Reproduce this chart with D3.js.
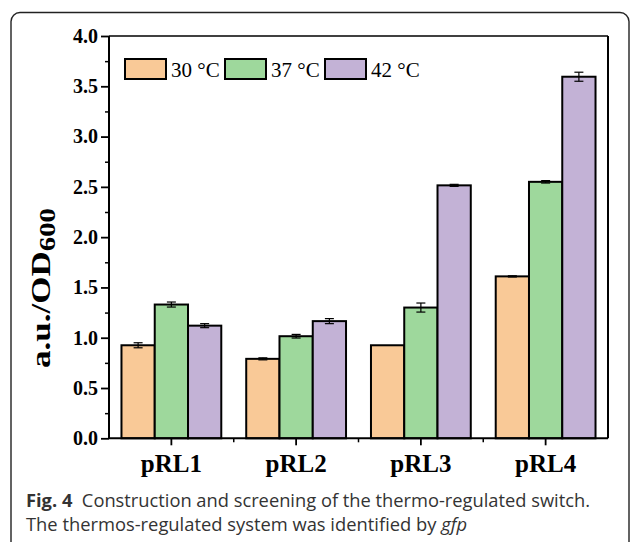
<!DOCTYPE html>
<html><head><meta charset="utf-8">
<script src="https://cdn.jsdelivr.net/npm/d3@7"></script>
<style>body{margin:0;background:#fff}svg{display:block}</style>
</head><body>
<svg id="c" width="630" height="542"></svg>
<script>
const categories = ["pRL1", "pRL2", "pRL3", "pRL4"];
const seriesNames = ["30 °C", "37 °C", "42 °C"];
const colors = ["#F9C997", "#9ED89C", "#C3B2D6"];
const values30 = [0.925, 0.79, 0.925, 1.61];
const values37 = [1.33, 1.015, 1.30, 2.55];
const values42 = [1.12, 1.165, 2.515, 3.595];
const err30 = [0.025, 0.01, 0.0, 0.006];
const err37 = [0.025, 0.018, 0.045, 0.012];
const err42 = [0.02, 0.025, 0.01, 0.045];
const yTicks = [0, 0.5, 1.0, 1.5, 2.0, 2.5, 3.0, 3.5, 4.0];
const captionBold = "Fig. 4";
const captionLine1 = "Construction and screening of the thermo-regulated switch.";
const captionLine2a = "The thermos-regulated system was identified by ";
const captionLine2b = "gfp";

const svg = d3.select("#c");
const L = 109, R = 608, T = 36, B = 438.3;
const serif = "'Liberation Serif','Times New Roman',serif";

// border
svg.append("rect").attr("x", 11).attr("y", 12.5).attr("width", 618).attr("height", 620)
  .attr("rx", 9).attr("fill", "none").attr("stroke", "#222").attr("stroke-width", 1.4);

const y = d3.scaleLinear().domain([0, 4]).range([B, T]);
const x = d3.scaleBand().domain(categories).range([L, R]).paddingInner(0.2).paddingOuter(0.1);
const xs = d3.scaleBand().domain(seriesNames).range([0, x.bandwidth()]);
const step = x.step();

const series = [values30, values37, values42];
const errs = [err30, err37, err42];

// bars
const g = svg.append("g");
categories.forEach((c, i) => {
  series.forEach((vals, s) => {
    const bx = x(c) + xs(seriesNames[s]);
    g.append("rect").attr("x", bx).attr("y", y(vals[i]))
      .attr("width", xs.bandwidth()).attr("height", y(0) - y(vals[i]))
      .attr("fill", colors[s]).attr("stroke", "#000").attr("stroke-width", 2);
  });
});
// error bars
categories.forEach((c, i) => {
  series.forEach((vals, s) => {
    const e = errs[s][i];
    if (e <= 0) return;
    const cx = x(c) + xs(seriesNames[s]) + xs.bandwidth() / 2;
    const y1 = y(vals[i] + e), y2 = y(vals[i] - e);
    g.append("line").attr("x1", cx).attr("x2", cx).attr("y1", y1).attr("y2", y2).attr("stroke", "#000").attr("stroke-width", 1.2);
    [y1, y2].forEach(yy => g.append("line").attr("x1", cx - 4.5).attr("x2", cx + 4.5).attr("y1", yy).attr("y2", yy).attr("stroke", "#000").attr("stroke-width", 1.2));
  });
});

// frame
svg.append("line").attr("x1", L).attr("x2", R).attr("y1", T).attr("y2", T).attr("stroke", "#000").attr("stroke-width", 1.3);
svg.append("line").attr("x1", R).attr("x2", R).attr("y1", T).attr("y2", B).attr("stroke", "#000").attr("stroke-width", 2);

// y axis
const yAxis = d3.axisLeft(y).tickValues(yTicks).tickFormat(d3.format(".1f")).tickSize(8).tickPadding(3);
const ya = svg.append("g").attr("transform", `translate(${L},0)`).call(yAxis);
ya.select(".domain").attr("stroke-width", 2).attr("d", `M0,${T}V${B}`);
ya.selectAll(".tick line").attr("stroke-width", 1.8);
ya.selectAll(".tick text").attr("font-family", serif).attr("font-weight", "bold").attr("font-size", 20).attr("fill", "#000");
const yMinor = d3.range(0.25, 4, 0.5);
const yAxisMinor = d3.axisLeft(y).tickValues(yMinor).tickFormat("").tickSize(4);
const ym = svg.append("g").attr("transform", `translate(${L},0)`).call(yAxisMinor);
ym.select(".domain").remove();
ym.selectAll(".tick line").attr("stroke-width", 1.5);

// x axis
const xAxis = d3.axisBottom(x).tickSize(7).tickPadding(9);
const xa = svg.append("g").attr("transform", `translate(0,${B})`).call(xAxis);
xa.select(".domain").attr("stroke-width", 2).attr("d", `M${L},0H${R}`);
xa.selectAll(".tick line").attr("stroke-width", 1.8);
xa.selectAll(".tick text").attr("font-family", serif).attr("font-weight", "bold").attr("font-size", 25).attr("fill", "#000");
const xBounds = categories.slice(1).map(c => x(c) + x.bandwidth() / 2 - step / 2);
xBounds.forEach(bx => svg.append("line").attr("x1", bx).attr("x2", bx).attr("y1", B).attr("y2", B + 4).attr("stroke", "#000").attr("stroke-width", 1.5));

// y title
const yt = svg.append("text").attr("transform", `translate(50,288) rotate(-90)`)
  .attr("text-anchor", "middle").attr("font-family", serif).attr("font-weight", "bold").attr("font-size", 28).attr("fill", "#000")
  .attr("textLength", 160).attr("lengthAdjust", "spacingAndGlyphs");
yt.append("tspan").text("a.u./OD");
yt.append("tspan").attr("font-size", 23).attr("dy", 5).text("600");

// legend
const legX = [125, 225, 325];
seriesNames.forEach((n, s) => {
  svg.append("rect").attr("x", legX[s]).attr("y", 59).attr("width", 41).attr("height", 20)
    .attr("fill", colors[s]).attr("stroke", "#000").attr("stroke-width", 2);
  svg.append("text").attr("x", legX[s] + 46).attr("y", 76.5).attr("font-family", serif).attr("font-size", 21).attr("fill", "#000").text(n);
});

// caption
const sans = "'Open Sans','Noto Sans',sans-serif";
const c1 = svg.append("text").attr("x", 26).attr("y", 507).attr("font-family", sans).attr("font-size", 17.5).attr("fill", "#333")
  .attr("textLength", 564).attr("lengthAdjust", "spacingAndGlyphs");
c1.append("tspan").attr("font-weight", "bold").text(captionBold);
c1.append("tspan").text("\u00a0 " + captionLine1);
const c2 = svg.append("text").attr("x", 26).attr("y", 531).attr("font-family", sans).attr("font-size", 17.5).attr("fill", "#333")
  .attr("textLength", 441).attr("lengthAdjust", "spacingAndGlyphs");
c2.append("tspan").text(captionLine2a);
c2.append("tspan").attr("font-style", "italic").text(captionLine2b);
</script>
</body></html>
